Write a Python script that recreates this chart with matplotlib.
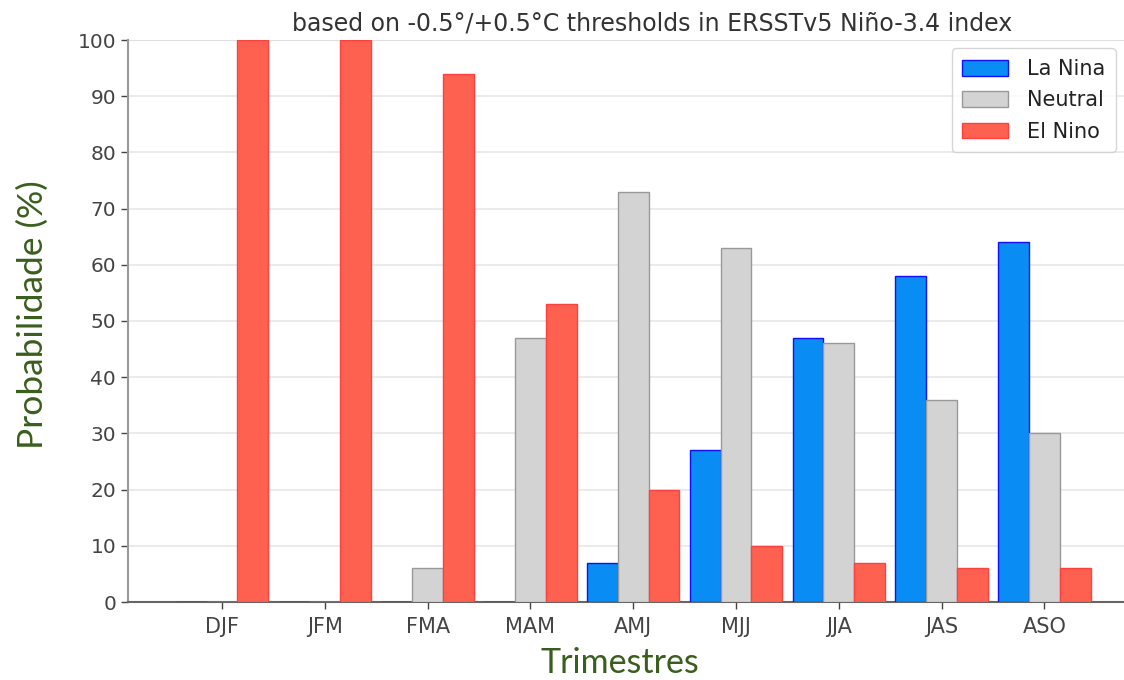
import matplotlib
matplotlib.use("Agg")
import matplotlib.pyplot as plt
import numpy as np

categories = ["DJF", "JFM", "FMA", "MAM", "AMJ", "MJJ", "JJA", "JAS", "ASO"]
la_nina = [0, 0, 0, 0, 7, 27, 47, 58, 64]
neutral = [0, 0, 6, 47, 73, 63, 46, 36, 30]
el_nino = [100, 100, 94, 53, 20, 10, 7, 6, 6]
yticks = list(range(0, 101, 10))

W, H = 1124, 680
fig = plt.figure(figsize=(W / 100, H / 100), dpi=100)
left, right, top, bottom = 128, 1176, 40, 602
ax = fig.add_axes([left / W, 1 - bottom / H, (right - left) / W, (bottom - top) / H])

x = np.arange(len(categories))
w = 0.3
ax.bar(x - w, la_nina, w, color="#0A8CF5", edgecolor="#1010FF", linewidth=1.0, label="La Nina", zorder=3)
ax.bar(x, neutral, w, color="#D3D3D3", edgecolor="#999999", linewidth=1.0, label="Neutral", zorder=3)
ax.bar(x + w, el_nino, w, color="#FF6150", edgecolor="#FF4040", linewidth=1.0, label="El Nino", zorder=3)

ax.set_xlim(-0.915, 9.28)
ax.set_ylim(0, 100)
ax.set_yticks(yticks)
ax.set_xticks(x)
ax.set_xticklabels(categories)
ax.tick_params(axis="both", colors="#444444", length=5, width=1)
ax.tick_params(axis="y", labelsize=14.5)
ax.tick_params(axis="x", labelsize=15, pad=6)
ax.grid(axis="y", color="#E8E8E8", linewidth=1.2, zorder=0)
for s in ["top", "right"]:
    ax.spines[s].set_visible(False)
ax.spines["left"].set_color("#999999")
ax.spines["bottom"].set_color("#666666")
ax.spines["left"].set_linewidth(1.5)
ax.spines["bottom"].set_linewidth(1.5)
ax.axhline(100, color="#BBBBBB", linewidth=1.5, zorder=1)

ax.set_title("based on -0.5°/+0.5°C thresholds in ERSSTv5 Niño-3.4 index",
             fontsize=17, color="#333333", pad=7)

green = "#3A5E1E"
fig.text(33 / W, 1 - 315 / H, "Probabilidade (%)", rotation=90, ha="center", va="center",
         fontsize=25.5, color=green, family="Lato")
fig.text(620 / W, 1 - 663 / H, "Trimestres", ha="center", va="center",
         fontsize=24.5, color=green, family="Lato")

leg = ax.legend(loc="upper right", bbox_to_anchor=(1126 / W, 1 - 38 / H),
                bbox_transform=fig.transFigure, fontsize=15, frameon=True,
                handlelength=2.2, handleheight=0.8, borderpad=0.5, labelspacing=0.55,
                handletextpad=0.9, fancybox=True)
for t in leg.get_texts():
    t.set_color("#222222")
leg.get_frame().set_edgecolor("#CCCCCC")

fig.savefig("out.png", dpi=100)
